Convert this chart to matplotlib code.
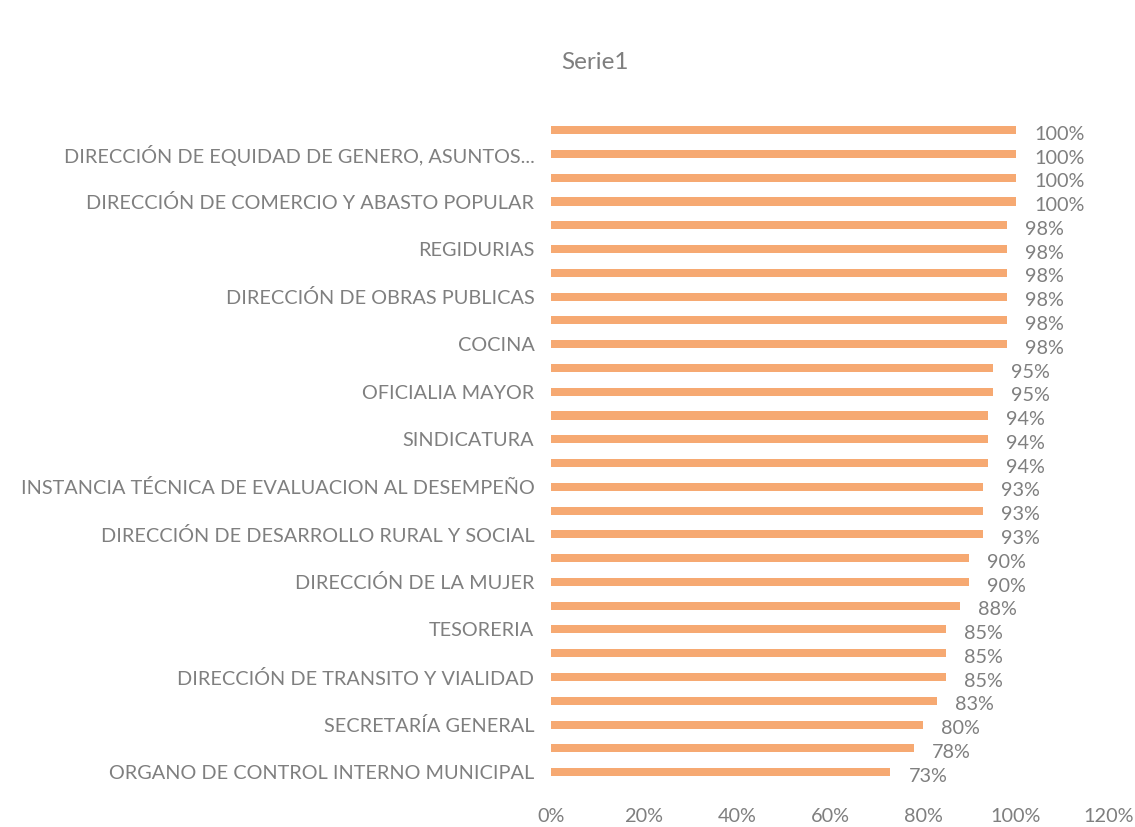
import matplotlib
matplotlib.use("Agg")
import matplotlib.pyplot as plt
from matplotlib.ticker import FuncFormatter

# Categories listed bottom to top (only every other label is visible in the source)
categories = [
    "ORGANO DE CONTROL INTERNO MUNICIPAL", "",
    "SECRETARÍA GENERAL", "",
    "DIRECCIÓN DE TRANSITO Y VIALIDAD", "",
    "TESORERIA", "",
    "DIRECCIÓN DE LA MUJER", "",
    "DIRECCIÓN DE DESARROLLO RURAL Y SOCIAL", "",
    "INSTANCIA TÉCNICA DE EVALUACION AL DESEMPEÑO", "",
    "SINDICATURA", "",
    "OFICIALIA MAYOR", "",
    "COCINA", "",
    "DIRECCIÓN DE OBRAS PUBLICAS", "",
    "REGIDURIAS", "",
    "DIRECCIÓN DE COMERCIO Y ABASTO POPULAR", "",
    "DIRECCIÓN DE EQUIDAD DE GENERO, ASUNTOS...", "",
]
values = [0.73, 0.78, 0.80, 0.83, 0.85, 0.85, 0.85, 0.88, 0.90, 0.90,
          0.93, 0.93, 0.93, 0.94, 0.94, 0.94, 0.95, 0.95, 0.98, 0.98,
          0.98, 0.98, 0.98, 0.98, 1.00, 1.00, 1.00, 1.00]
x_ticks = [0, 0.2, 0.4, 0.6, 0.8, 1.0, 1.2]
title = "Serie1"

plt.rcParams['font.family'] = ['Lato', 'DejaVu Sans']
gray = "#7f7f7f"
bar_color = "#F6A972"

fig = plt.figure(figsize=(11.35, 8.27), dpi=100)
ax = fig.add_axes([0.4855, 0.052, 0.4915, 0.805])

ypos = list(range(len(values)))
bars = ax.barh(ypos, values, height=0.34, color=bar_color)

for y, v in zip(ypos, values):
    ax.annotate(f"{round(v*100):d}%", (v, y), xytext=(13, -3),
                textcoords="offset points", ha="left", va="center",
                fontsize=14.3, color=gray)

ax.set_xlim(0, 1.2)
ax.set_ylim(-0.5, len(values) - 0.5)
ax.set_xticks(x_ticks)
ax.xaxis.set_major_formatter(FuncFormatter(lambda v, p: f"{round(v*100):d}%"))
ax.set_yticks(ypos)
ax.set_yticklabels(categories)
ax.tick_params(axis="both", length=0, colors=gray, labelsize=14.3)
ax.tick_params(axis="y", pad=12)
ax.tick_params(axis="x", pad=17)
for s in ax.spines.values():
    s.set_visible(False)

fig.text(0.524, 0.925, title, ha="center", va="center", fontsize=17.5, color=gray)

fig.savefig("out.png", dpi=100, facecolor="white")
